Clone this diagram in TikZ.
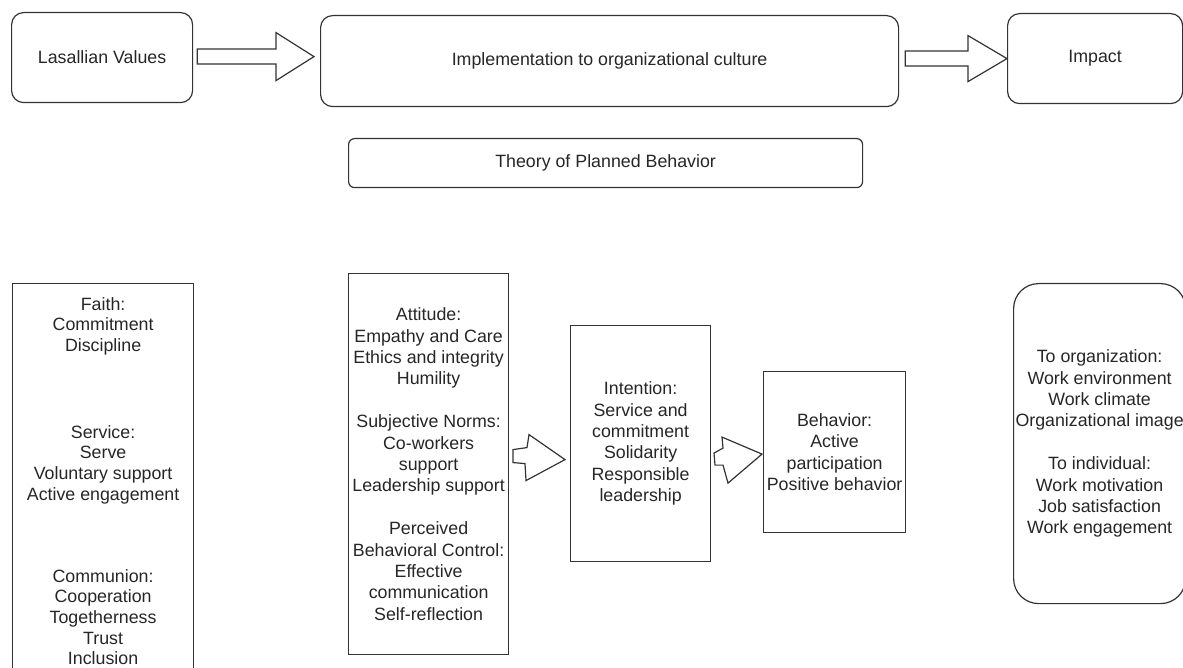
\documentclass[tikz,border=0pt]{standalone}
\usepackage{fontspec}
\setmainfont{Liberation Sans}
\usetikzlibrary{calc}
\begin{document}
\begin{tikzpicture}[x=1pt,y=-1pt,
  lbl/.style={font=\fontsize{17.8}{21.4}\selectfont, text=black!85, align=center},
  box/.style={draw=black!80, line width=1.2pt, lbl, inner sep=0pt, anchor=north west},
  rbox/.style={box, rounded corners=12pt},
  blk/.style={draw=black!80, line width=1.2pt, fill=white, line join=miter}]
\useasboundingbox (0,0) rectangle (1183,668);
\clip (0,0) rectangle (1183,668);
% top row
\node[rbox, minimum width=181pt, minimum height=90pt] (lv) at (11,12) {Lasallian Values};
\node[rbox, minimum width=578pt, minimum height=91pt] (impl) at (320,15) {Implementation to organizational culture};
\node[rbox, minimum width=175pt, minimum height=90pt] (imp) at (1007,13) {Impact};
\node[box, rounded corners=6pt, minimum width=514pt, minimum height=49pt] (tpb) at (348,138) {Theory of Planned Behavior};
% bottom row
\node[box, minimum width=181pt, minimum height=395pt, font=\fontsize{17.8}{20.7}\selectfont] (faith) at (12,283)
 {Faith:\\Commitment\\Discipline\\[65.9pt]Service:\\Serve\\Voluntary support\\Active engagement\\[61.2pt]Communion:\\Cooperation\\Togetherness\\Trust\\Inclusion};
\node[box, minimum width=160pt, minimum height=381pt] (att) at (348,273)
 {Attitude:\\Empathy and Care\\Ethics and integrity\\Humility\\[21.4pt]Subjective Norms:\\Co-workers\\support\\Leadership support\\[21.4pt]Perceived\\Behavioral Control:\\Effective\\communication\\Self-reflection};
\node[box, minimum width=140pt, minimum height=236pt] (int) at (570,325)
 {Intention:\\Service and\\commitment\\Solidarity\\Responsible\\leadership};
\node[box, minimum width=142pt, minimum height=161pt] (beh) at (763,371)
 {Behavior:\\Active\\participation\\Positive behavior};
\node[box, rounded corners=25pt, minimum width=172pt, minimum height=320pt] (out) at (1013,283)
 {To organization:\\Work environment\\Work climate\\Organizational image\\[21.4pt]To individual:\\Work motivation\\Job satisfaction\\Work engagement};
% block arrows top
\draw[blk] let \p1=($(lv.east)+(4,-1)$), \p2=($(impl.west)+(-6,0)$) in
 (\x1,\y1+7.5pt) -- (\x2-38pt,\y1+7.5pt) -- (\x2-38pt,\y1+24pt) -- (\x2,\y1)
 -- (\x2-38pt,\y1-24pt) -- (\x2-38pt,\y1-7.5pt) -- (\x1,\y1-7.5pt) -- cycle;
\draw[blk] let \p1=($(impl.east)+(6,-2.5)$), \p2=(imp.west) in
 (\x1,\y1+7.5pt) -- (\x2-39pt,\y1+7.5pt) -- (\x2-39pt,\y1+23pt) -- (\x2,\y1)
 -- (\x2-39pt,\y1-23pt) -- (\x2-39pt,\y1-7.5pt) -- (\x1,\y1-7.5pt) -- cycle;
% stylised arrows bottom
\coordinate (t3) at ($(int.west)+(-5,16)$);
\draw[blk, shift={(t3)}] (-36,-25) -- (-38,-12) -- (-52,-10) -- (-52,3) -- (-40,4) -- (-39,21) -- (0,0) -- cycle;
\coordinate (t4) at ($(beh.west)+(-1,2)$);
\draw[blk, shift={(t4)}] (-40,-17) -- (-39,-6) -- (-48,-1) -- (-47,11) -- (-39,11) -- (-34,29) -- (0,0) -- cycle;
\end{tikzpicture}
\end{document}
